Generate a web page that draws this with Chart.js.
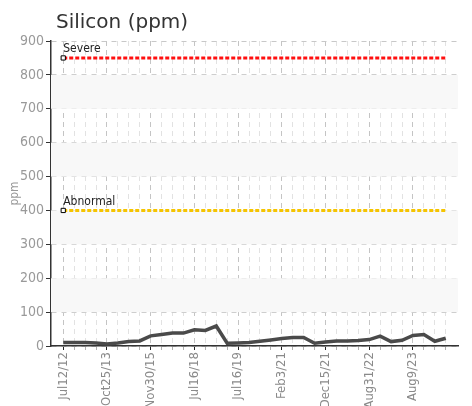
<!DOCTYPE html>
<html>
<head>
<meta charset="utf-8">
<script src="https://cdn.jsdelivr.net/npm/chart.js@4"></script>
<style>
  html, body { margin: 0; padding: 0; background: #fff; }
  #wrap { width: 472px; height: 406px; }
</style>
</head>
<body>
<div id="wrap"><canvas id="chart" width="472" height="406"></canvas></div>
<script>
// silicon readings, one per sample (ppm)
const siliconValues = [10, 10, 10, 9, 6, 9, 13, 15, 30, 34, 38, 38, 48, 46, 59, 8, 9, 10,
  14, 18, 22, 25, 25, 8, 12, 15, 15, 16, 19, 29, 13, 17, 31, 34, 14, 23];
// only every 4th sample gets a date label
const tickLabels = ['Jul12/12', 'Oct25/13', 'Nov30/15', 'Jul16/18', 'Jul16/19',
  'Feb3/21', 'Dec15/21', 'Aug31/22', 'Aug9/23'];
const labelEvery = 4;
const yTicks = [0, 100, 200, 300, 400, 500, 600, 700, 800, 900];
const severeLimit = 850;
const abnormalLimit = 400;

// condensed face for axis texts (style slot carries the font-stretch keyword)
const narrowFamily = "'DejaVu Sans Condensed', 'DejaVu Sans', sans-serif";
const narrowFont = (size) => ({ family: narrowFamily, size: size, style: 'condensed' });
const lastIndex = siliconValues.length - 1;

const siliconPoints = siliconValues.map((v, i) => ({ x: i, y: v }));
const severeLine = [{ x: 0, y: severeLimit }, { x: lastIndex, y: severeLimit }];
const abnormalLine = [{ x: 0, y: abnormalLimit }, { x: lastIndex, y: abnormalLimit }];

// light grey bands every other 100 ppm
const bandsPlugin = {
  id: 'bands',
  beforeDatasetsDraw(chart) {
    const { ctx, chartArea, scales } = chart;
    ctx.save();
    ctx.fillStyle = '#f8f8f8';
    for (let i = 1; i < yTicks.length - 1; i += 2) {
      const top = scales.y.getPixelForValue(yTicks[i + 1]);
      const bottom = scales.y.getPixelForValue(yTicks[i]);
      ctx.fillRect(chartArea.left, top, chartArea.right - chartArea.left, bottom - top);
    }
    ctx.restore();
  }
};

// title and the limit captions
const textPlugin = {
  id: 'texts',
  afterDraw(chart) {
    const { ctx, scales } = chart;
    ctx.save();
    ctx.fillStyle = '#333';
    ctx.font = "20px 'DejaVu Sans', sans-serif";
    ctx.textBaseline = 'alphabetic';
    ctx.fillText('Silicon (ppm)', 56, 28);

    ctx.fillStyle = '#222';
    ctx.font = 'condensed 12px ' + narrowFamily;
    const x0 = scales.x.getPixelForValue(0);
    ctx.fillText('Severe', x0, scales.y.getPixelForValue(severeLimit) - 6);
    ctx.fillText('Abnormal', x0, scales.y.getPixelForValue(abnormalLimit) - 5);
    ctx.restore();
  }
};

const firstOnly = (ctx) => ctx.dataIndex === 0 ? 3 : 0;

new Chart(document.getElementById('chart'), {
  type: 'line',
  data: {
    datasets: [
      {
        data: siliconPoints,
        borderColor: '#4a4a4a',
        borderWidth: 3.5,
        pointRadius: 0,
        tension: 0
      },
      {
        data: severeLine,
        borderColor: '#ff1010',
        borderWidth: 3,
        borderDash: [4, 2],
        pointStyle: 'rect',
        pointRadius: firstOnly,
        pointBackgroundColor: '#fff',
        pointBorderColor: '#000',
        pointBorderWidth: 1
      },
      {
        data: abnormalLine,
        borderColor: '#f5c400',
        borderWidth: 3,
        borderDash: [4, 2],
        pointStyle: 'rect',
        pointRadius: firstOnly,
        pointBackgroundColor: '#fff',
        pointBorderColor: '#000',
        pointBorderWidth: 1
      }
    ]
  },
  options: {
    responsive: false,
    animation: false,
    layout: { padding: { top: 41, right: 14, left: 0, bottom: 0 } },
    plugins: {
      legend: { display: false },
      tooltip: { enabled: false }
    },
    scales: {
      x: {
        type: 'linear',
        min: -1.12,
        max: lastIndex + 1.12,
        afterBuildTicks: (scale) => {
          scale.ticks = siliconValues.map((v, i) => ({ value: i }));
        },
        afterFit: (scale) => { scale.height = 60; },
        ticks: {
          autoSkip: false,
          minRotation: 90,
          maxRotation: 90,
          padding: 2,
          color: '#8a8a8a',
          font: narrowFont(13),
          callback: (v) => v % labelEvery === 0 ? tickLabels[v / labelEvery] : ''
        },
        grid: {
          color: (c) => c.tick && c.tick.value % labelEvery === 0 ? '#c4c4c4' : '#e2e2e2',
          tickColor: (c) => c.tick && c.tick.value % labelEvery === 0 ? '#222' : '#b0b0b0',
          tickLength: 4,
          tickBorderDash: []
        },
        border: { display: true, color: '#333', width: 1.5, dash: [5, 4] }
      },
      y: {
        min: 0,
        max: 900,
        afterBuildTicks: (scale) => {
          scale.ticks = yTicks.map((v) => ({ value: v }));
        },
        afterFit: (scale) => { scale.width = 51; },
        title: {
          display: true,
          text: 'ppm',
          color: '#999',
          font: narrowFont(12),
          padding: { top: 8, bottom: 0 }
        },
        ticks: {
          color: '#999',
          padding: 2,
          font: narrowFont(14)
        },
        grid: {
          color: '#c8c8c8',
          tickColor: '#333',
          tickLength: 5,
          tickBorderDash: []
        },
        border: { display: true, color: '#333', width: 1.5, dash: [5, 5] }
      }
    }
  },
  plugins: [bandsPlugin, textPlugin]
});
</script>
</body>
</html>
